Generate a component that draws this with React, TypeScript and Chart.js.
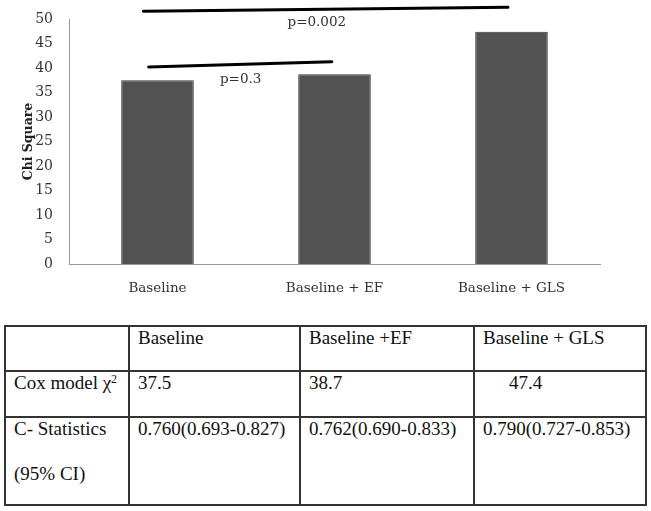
import React, { useEffect, useRef } from "react";
import { Chart, registerables } from "chart.js";

Chart.register(...registerables);

const categories = ["Baseline", "Baseline + EF", "Baseline + GLS"];
const chiSquare = [37.5, 38.7, 47.4];
const yTicks = { min: 0, max: 50, step: 5 };
const axisTitle = "Chi Square";

// significance brackets in data units (x = category index, y = chi square)
const bracketX1 = [-0.05, -0.08];
const bracketX2 = [0.985, 1.98];
const bracketY1 = [40.2, 51.6];
const bracketY2 = [41.3, 52.4];
const bracketLabels = ["p=0.3", "p=0.002"];
const labelX = [0.47, 0.9];
const labelY = [37.7, 49.2];

const tableHeader = ["", "Baseline", "Baseline +EF", "Baseline + GLS"];
const coxRow = ["37.5", "38.7", "47.4"];
const cStatRow = ["0.760(0.693-0.827)", "0.762(0.690-0.833)", "0.790(0.727-0.853)"];

const serif = "'DejaVu Serif', serif";

const bracketPlugin = {
  id: "brackets",
  afterDatasetsDraw(chart: any) {
    const { ctx, scales } = chart;
    const xs = scales.x;
    const ys = scales.y;
    ctx.save();
    for (let i = 0; i < bracketLabels.length; i++) {
      ctx.beginPath();
      ctx.strokeStyle = "#000";
      ctx.lineWidth = 3;
      ctx.lineCap = "round";
      ctx.moveTo(xs.getPixelForValue(bracketX1[i]), ys.getPixelForValue(bracketY1[i]));
      ctx.lineTo(xs.getPixelForValue(bracketX2[i]), ys.getPixelForValue(bracketY2[i]));
      ctx.stroke();
      ctx.fillStyle = "#333";
      ctx.font = "13.5px " + serif;
      ctx.textAlign = "center";
      ctx.textBaseline = "middle";
      ctx.fillText(bracketLabels[i], xs.getPixelForValue(labelX[i]), ys.getPixelForValue(labelY[i]));
    }
    ctx.restore();
  },
};

function BarChart() {
  const ref = useRef<HTMLCanvasElement>(null);
  useEffect(() => {
    if (!ref.current) return;
    const chart = new Chart(ref.current, {
      type: "bar",
      data: {
        labels: categories,
        datasets: [
          {
            data: chiSquare,
            backgroundColor: "#525252",
            borderColor: "#3a3a3a",
            borderWidth: 1,
            barPercentage: 0.41,
            categoryPercentage: 1,
          },
        ],
      },
      options: {
        animation: false,
        responsive: false,
        events: [],
        layout: { padding: { top: 19, right: 51, left: 0, bottom: 0 } },
        plugins: { legend: { display: false }, tooltip: { enabled: false } },
        scales: {
          x: {
            grid: { display: false, drawTicks: false },
            border: { display: true, color: "#999", width: 1 },
            ticks: { color: "#333", font: { family: serif, size: 13.5 }, padding: 16, maxRotation: 0 },
            afterFit: (s: any) => {
              s.height = 36;
              s.paddingLeft = 0;
              s.paddingRight = 0;
            },
          },
          y: {
            min: yTicks.min,
            max: yTicks.max,
            grid: { display: false, drawTicks: false },
            border: { display: true, color: "#999", width: 1 },
            ticks: { stepSize: yTicks.step, color: "#333", font: { family: serif, size: 14 }, padding: 16 },
            title: {
              display: true,
              text: axisTitle,
              color: "#222",
              font: { family: serif, size: 12.5, weight: "bold" },
              padding: { top: 21, bottom: 0 },
            },
            afterFit: (s: any) => {
              s.width = 69;
              s.paddingTop = 0;
              s.paddingBottom = 0;
            },
          },
        },
      },
      plugins: [bracketPlugin],
    } as any);
    return () => chart.destroy();
  }, []);
  return <canvas ref={ref} width={651} height={300} style={{ display: "block" }} />;
}

const cell: React.CSSProperties = {
  border: "2px solid #333",
  verticalAlign: "top",
  textAlign: "left",
  padding: "0 8px",
  fontFamily: "'Liberation Serif', 'Times New Roman', serif",
  fontSize: 19,
  lineHeight: "22px",
  color: "#111",
  whiteSpace: "nowrap",
  overflow: "hidden",
};

export default function App() {
  return (
    <div style={{ position: "absolute", left: 0, top: 0, width: 651, height: 511, background: "#fff" }}>
      <BarChart />
      <table
        style={{
          position: "absolute",
          left: 4,
          top: 325,
          width: 643,
          borderCollapse: "collapse",
          tableLayout: "fixed",
        }}
      >
        <colgroup>
          <col style={{ width: 124 }} />
          <col style={{ width: 171 }} />
          <col style={{ width: 174 }} />
          <col style={{ width: 172 }} />
        </colgroup>
        <tbody>
          <tr style={{ height: 45 }}>
            {tableHeader.map((h, i) => (
              <td key={i} style={cell}>{h}</td>
            ))}
          </tr>
          <tr style={{ height: 46 }}>
            <td style={cell}>
              Cox model χ<sup style={{ fontSize: 12, verticalAlign: "6px", lineHeight: 0 }}>2</sup>
            </td>
            {coxRow.map((v, i) => (
              <td key={i} style={{ ...cell, paddingLeft: i === 2 ? 34 : 8 }}>{v}</td>
            ))}
          </tr>
          <tr style={{ height: 88 }}>
            <td style={cell}>
              <div>C- Statistics</div>
              <div style={{ marginTop: 23 }}>(95% CI)</div>
            </td>
            {cStatRow.map((v, i) => (
              <td key={i} style={cell}>{v}</td>
            ))}
          </tr>
        </tbody>
      </table>
    </div>
  );
}
